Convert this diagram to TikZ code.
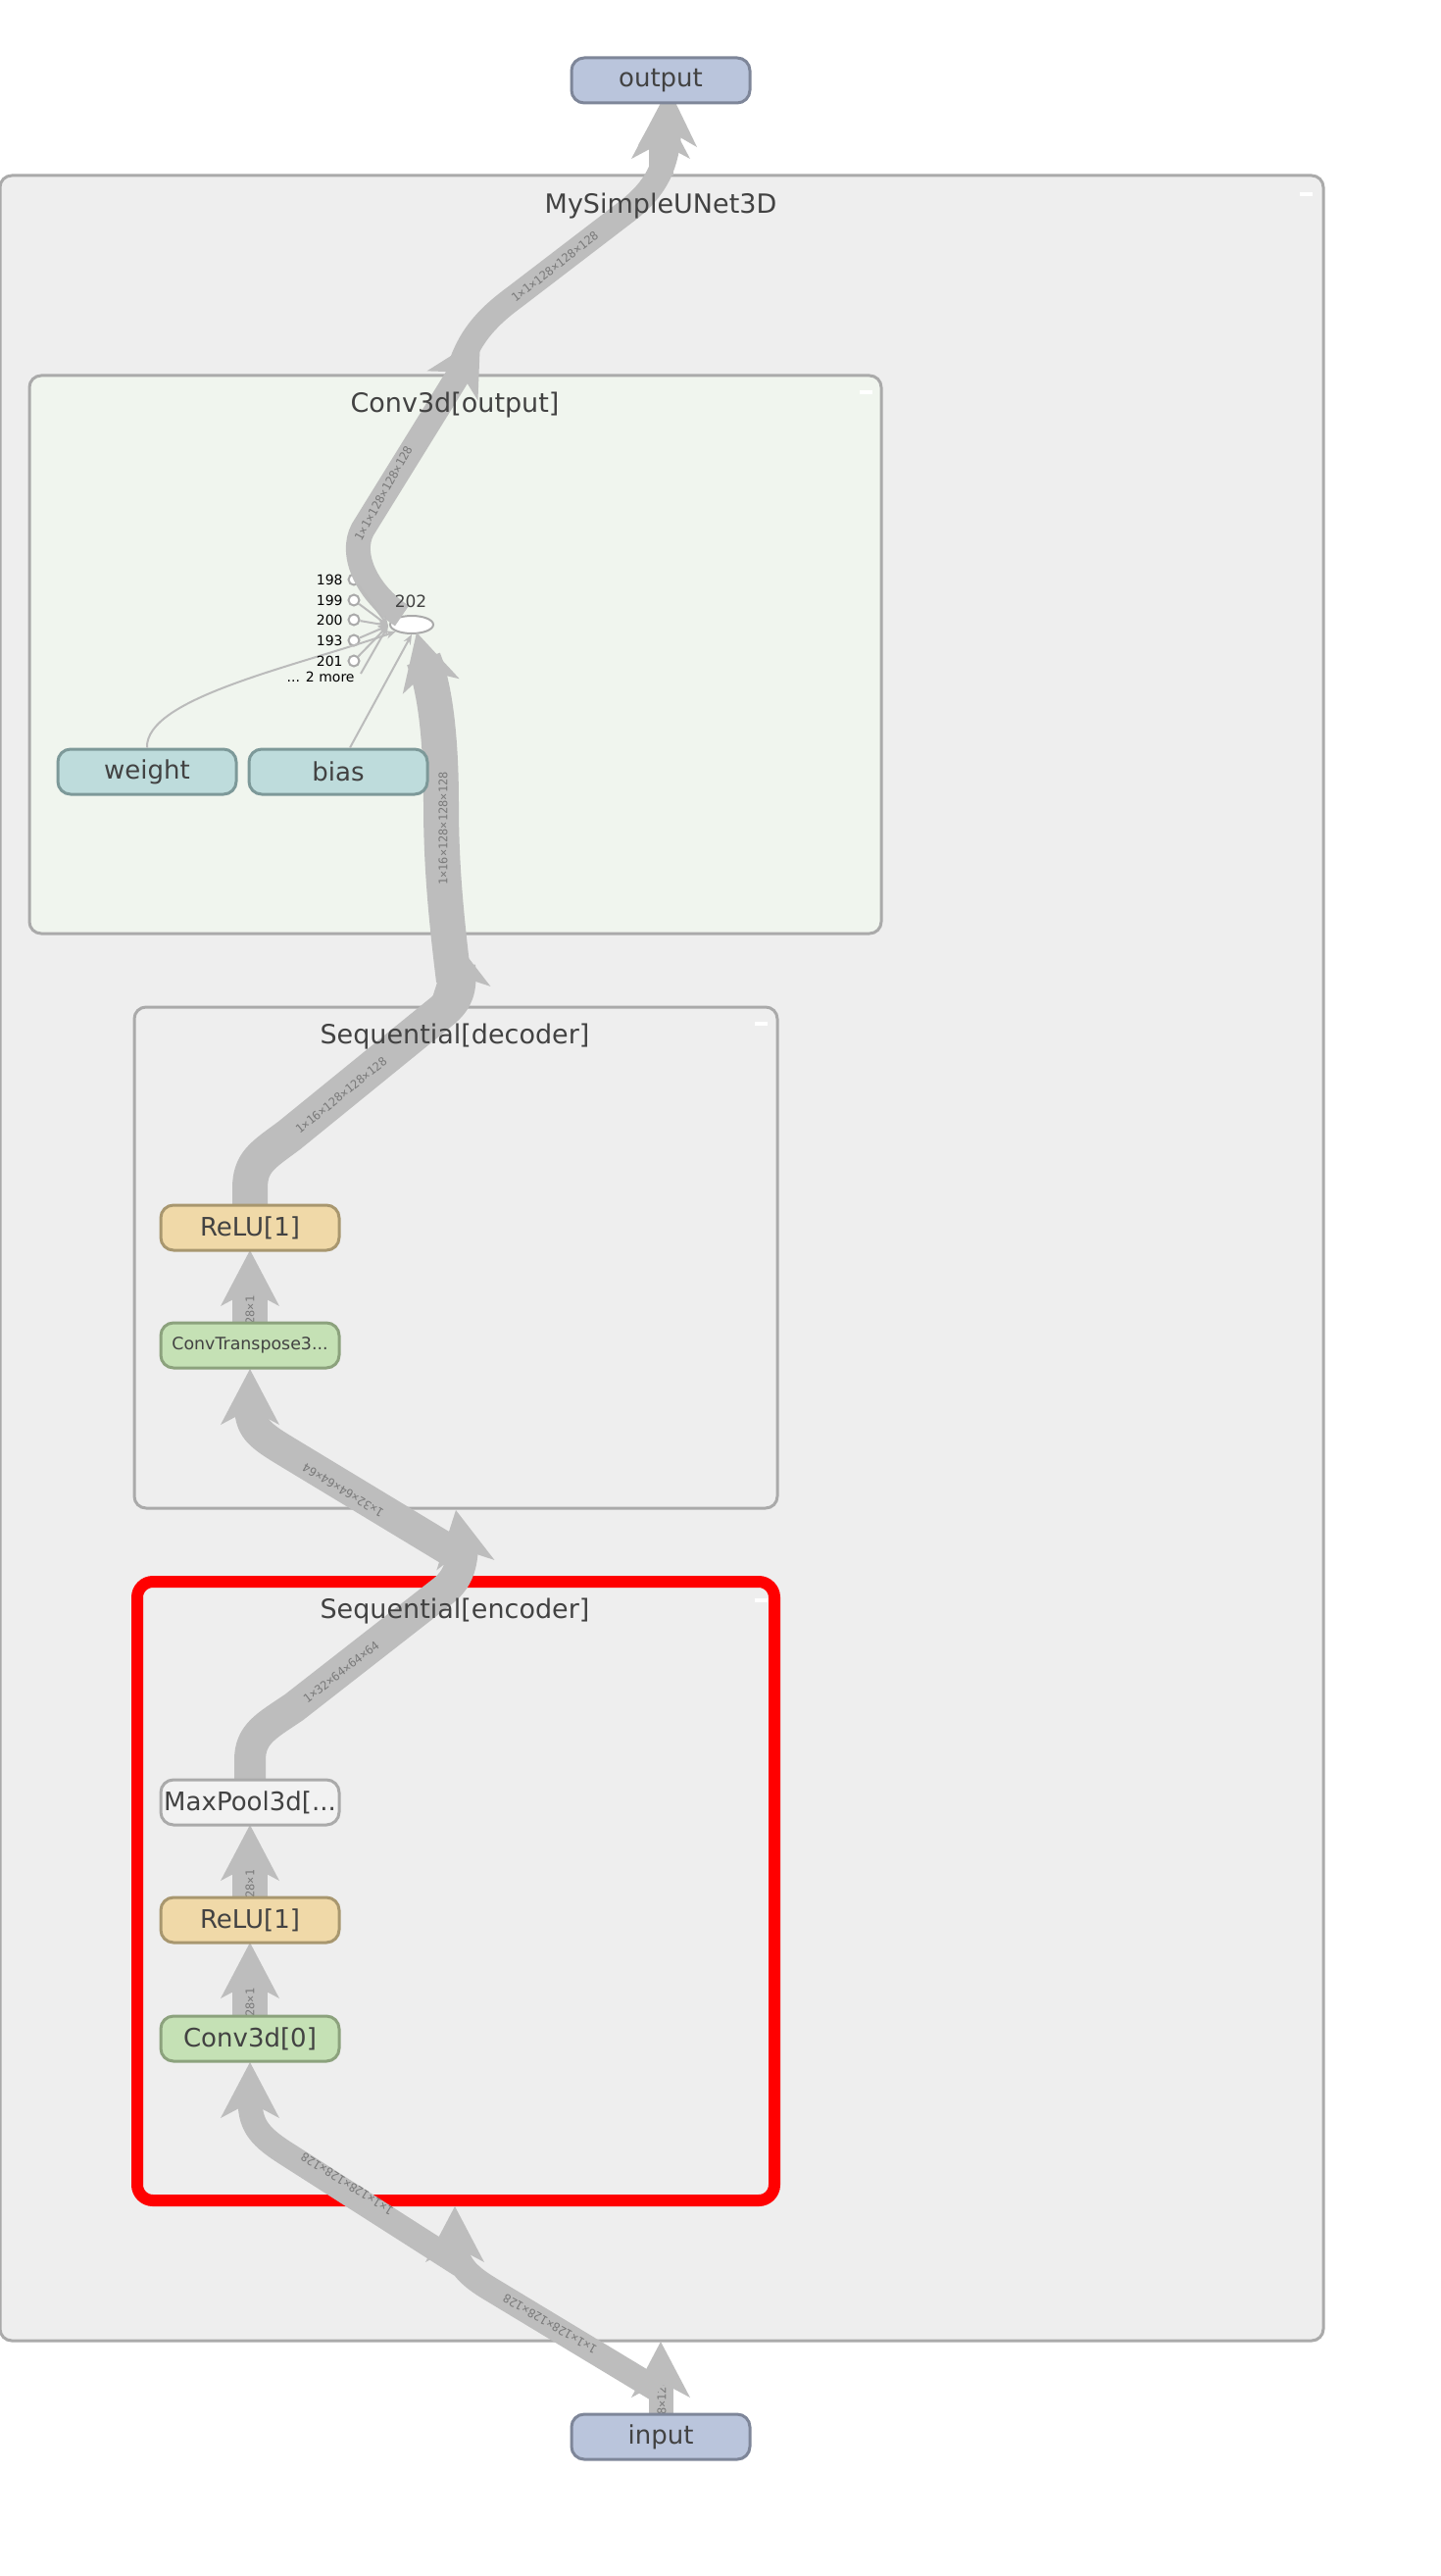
\documentclass[tikz,border=0pt]{standalone}
\usepackage{fontspec}
\setmainfont{DejaVu Sans}
\newfontfamily\edgefont{DejaVu Sans Mono}
\usetikzlibrary{arrows.meta,shapes.geometric,calc}

\definecolor{clusterbg}{HTML}{EEEEEE}
\definecolor{convbg}{HTML}{F0F5EE}
\definecolor{clusterline}{HTML}{AAAAAA}
\definecolor{edgegray}{HTML}{BDBDBD}
\definecolor{txt}{HTML}{424242}
\definecolor{iofill}{HTML}{BAC5DC}
\definecolor{ioline}{HTML}{7E8699}
\definecolor{relufill}{HTML}{F0D9A8}
\definecolor{reluline}{HTML}{A8976F}
\definecolor{convfill}{HTML}{C5E1B5}
\definecolor{convline}{HTML}{8CA27D}
\definecolor{poolfill}{HTML}{F2F2F2}
\definecolor{poolline}{HTML}{AAAAAA}
\definecolor{paramfill}{HTML}{BEDCDC}
\definecolor{paramline}{HTML}{7D9999}
\definecolor{labelgray}{HTML}{7A7A7A}
\definecolor{thingray}{HTML}{BBBBBB}

\tikzset{
  box/.style={rounded corners=6.5pt, line width=1.5pt, minimum width=91pt,
    minimum height=23pt, inner sep=0pt, text=txt, font=\fontsize{13}{15}\selectfont},
  io/.style={box, fill=iofill, draw=ioline},
  relu/.style={box, fill=relufill, draw=reluline},
  conv/.style={box, fill=convfill, draw=convline},
  pool/.style={box, fill=poolfill, draw=poolline},
  param/.style={box, fill=paramfill, draw=paramline},
  cluster/.style={rounded corners=6pt, line width=1.5pt, draw=clusterline, fill=clusterbg},
  ctitle/.style={text=txt, font=\fontsize{13.5}{16}\selectfont, inner sep=0pt},
  bandA/.style={draw=edgegray, line width=12.5pt, line join=round},
  bandB/.style={draw=edgegray, line width=16pt, line join=round},
  bandC/.style={draw=edgegray, line width=18pt, line join=round},
  elabel/.style={font=\edgefont\fontsize{6}{7}\selectfont, text=labelgray, inner sep=0pt},
  port/.style={circle, draw=clusterline, fill=white, line width=1pt, minimum size=5.5pt, inner sep=0pt},
  portlabel/.style={font=\fontsize{7}{8}\selectfont, text=black, inner sep=0pt, anchor=east},
  thinedge/.style={draw=thingray, line width=1pt, -{Stealth[length=5pt,width=4pt]}},
  collapse/.style={fill=white, draw=none},
}

% filled arrow head of a band: tip point, pointing direction
\newcommand{\bandhead}[2]{\fill[edgegray, shift={(#1)}, rotate=#2] (0,0) -- (-57,30) -- (-41,0) -- (-57,-30) -- cycle;}

\begin{document}
\begin{tikzpicture}[x=0.5pt, y=0.5pt]
\useasboundingbox (0,0) rectangle (1470,-2627);
\fill[white] (0,0) rectangle (1470,-2627);

% ---- clusters ----
\draw[cluster] (0,-179) rectangle (1350,-2387);
\draw[cluster, fill=convbg] (30,-383) rectangle (899,-952);
\draw[cluster] (137,-1027) rectangle (793,-1538);
\draw[cluster, draw=red, line width=6pt, rounded corners=8pt] (140,-1613) rectangle (790,-2244);

\fill[collapse] (1326,-196) rectangle (1339,-200);
\fill[collapse] (877,-398) rectangle (890,-402);
\fill[collapse] (770,-1042) rectangle (783,-1046);
\fill[collapse] (770,-1630) rectangle (783,-1634);

\path (674,-82) coordinate (pOut) (674,-2485) coordinate (pIn);

% ---- operand ports and op 202 ----
\node[port] (c198) at (361,-591) {};
\node[port] (c199) at (361,-612) {};
\node[port] (c200) at (361,-632) {};
\node[port] (c193) at (361,-653) {};
\node[port] (c201) at (361,-674) {};
\node[draw=clusterline, fill=white, ellipse, line width=1pt, minimum width=22pt, minimum height=9pt, inner sep=0pt] (op) at (420,-637) {};
\coordinate (opin) at (396,-638);
\coordinate (more) at (368,-687);

% ---- short edges that the next band passes over ----
% input -> MySimpleUNet3D
\draw[bandA] (674,-2462) -- (674,-2420);
\begin{scope}
  \clip (660,-2432) rectangle (688,-2462);
  \node[elabel, rotate=90] (l1) at (675,-2452) {1×1×128×128×128};
\end{scope}
% MySimpleUNet3D -> output
\draw[bandA] (674,-179) -- (674,-140);
\begin{scope}
  \clip (660,-148) rectangle (688,-179);
  \node[elabel, rotate=90] (l13) at (675,-160) {1×1×128×128×128};
\end{scope}

% ---- bands (shafts) ----
% MySimpleUNet3D boundary -> encoder boundary
\draw[bandA] (672,-2438) -- (498,-2333) .. controls (472,-2317) and (465,-2305) .. (465,-2285);
% encoder boundary -> Conv3d[0]
\draw[bandA] (470,-2310) -- (290,-2195) .. controls (262,-2177) and (255,-2165) .. (255,-2140);
% Conv3d[0] -> ReLU[1]
\draw[bandC] (255,-2056) -- (255,-2016);
% ReLU[1] -> MaxPool3d
\draw[bandC] (255,-1936) -- (255,-1896);
% MaxPool3d -> decoder
\draw[bandB] (255,-1816) -- (255,-1795) .. controls (255,-1768) and (272,-1760) .. (300,-1741)
  -- (450,-1624) .. controls (466,-1612) and (472,-1598) .. (472,-1572);
% decoder boundary -> ConvTranspose3d
\draw[bandB] (462,-1583) -- (290,-1479) .. controls (262,-1462) and (255,-1455) .. (255,-1431);
% ConvTranspose3d -> ReLU[1]
\draw[bandC] (255,-1349) -- (255,-1310);
% ReLU[1] -> Conv3d[output]
\draw[bandC] (255,-1229) -- (255,-1212) .. controls (255,-1185) and (268,-1178) .. (295,-1158)
  -- (450,-1032) .. controls (466,-1019) and (469,-1008) .. (467,-985);
% Conv3d[output] boundary -> op 202
\draw[bandC] (463,-1000) .. controls (453,-920) and (450,-870) .. (450,-820)
  .. controls (450,-760) and (445,-705) .. (432,-672);
% op 202 -> Conv3d[output] boundary
\draw[bandA] (410,-628) .. controls (375,-605) and (356,-566) .. (370,-540) -- (474,-372);
% Conv3d[output] boundary -> MySimpleUNet3D boundary
\draw[bandA] (468,-378) .. controls (478,-345) and (495,-325) .. (525,-303) -- (640,-215)
  .. controls (668,-193) and (682,-170) .. (683,-125);

% ---- band labels ----
\node[elabel, rotate=150] (l2) at (561,-2370) {1×1×128×128×128};
\node[elabel, rotate=148] (l3) at (354,-2227) {1×1×128×128×128};
\begin{scope}
  \clip (240,-2027) rectangle (270,-2056);
  \node[elabel, rotate=90] (l4) at (255,-2042) {1×16×128×128×128};
\end{scope}
\begin{scope}
  \clip (240,-1907) rectangle (270,-1936);
  \node[elabel, rotate=90] (l5) at (255,-1921) {1×16×128×128×128};
\end{scope}
\node[elabel, rotate=38] (l6) at (348,-1705) {1×32×64×64×64};
\node[elabel, rotate=149] (l7) at (350,-1520) {1×32×64×64×64};
\begin{scope}
  \clip (240,-1320) rectangle (270,-1349);
  \node[elabel, rotate=90] (l8) at (255,-1336) {1×16×128×128×128};
\end{scope}
\node[elabel, rotate=39] (l9) at (348,-1117) {1×16×128×128×128};
\node[elabel, rotate=90] (l10) at (452,-845) {1×16×128×128×128};
\node[elabel, rotate=61] (l11) at (391,-503) {1×1×128×128×128};
\node[elabel, rotate=38] (l12) at (566,-272) {1×1×128×128×128};

% ---- band heads ----
\bandhead{674,-2388}{90}
\bandhead{464,-2250}{90}
\bandhead{255,-2103}{90}
\bandhead{255,-1981}{90}
\bandhead{255,-1861}{90}
\bandhead{465,-1540}{100}
\bandhead{255,-1396}{90}
\bandhead{255,-1275}{90}
\bandhead{461,-955}{100}
\bandhead{425,-645}{105}
\bandhead{490,-344}{60}
\bandhead{683,-92}{88}
\bandhead{674,-105}{90}

% ---- thin links ----
\draw[thinedge] (c198) -- (opin);
\draw[thinedge] (c199) -- (opin);
\draw[thinedge] (c200) -- (opin);
\draw[thinedge] (c193) -- (opin);
\draw[thinedge] (c201) -- (opin);
\draw[thinedge] (more) -- (opin);

% ---- cluster titles ----
\node[ctitle] (tNet) at (674,-210) {MySimpleUNet3D};
\node[ctitle] (tConv) at (464,-413) {Conv3d[output]};
\node[ctitle] (tDec) at (464,-1057) {Sequential[decoder]};
\node[ctitle] (tEnc) at (464,-1643) {Sequential[encoder]};

% ---- nodes ----
\node[io] (output) at (pOut) {output};
\node[io] (input) at (pIn) {input};
\node[param] (weight) at (150,-787) {weight};
\node[param] (bias) at (345,-787) {bias};
\node[relu] (decrelu) at (255,-1252) {ReLU[1]};
\node[conv, font=\fontsize{8.7}{10}\selectfont] (convt) at (255,-1372) {ConvTranspose3...};
\node[pool] (maxpool) at (255,-1838) {MaxPool3d[...};
\node[relu] (encrelu) at (255,-1958) {ReLU[1]};
\node[conv] (conv0) at (255,-2079) {Conv3d[0]};

\draw[thinedge] (weight.north) .. controls (148,-712) and (300,-680) .. (op.south west);
\draw[thinedge] ($(bias.north)+(12,0)$) -- (op.south);

\node[portlabel] (n198) at (350,-591) {198};
\node[portlabel] (n199) at (350,-612) {199};
\node[portlabel] (n200) at (350,-632) {200};
\node[portlabel] (n193) at (350,-653) {193};
\node[portlabel] (n201) at (350,-674) {201};
\node[portlabel] (nmore) at (362,-690) {... 2 more};
\node[font=\fontsize{8.5}{10}\selectfont, text=txt, inner sep=0pt] (n202) at (419,-613) {202};
\end{tikzpicture}
\end{document}
